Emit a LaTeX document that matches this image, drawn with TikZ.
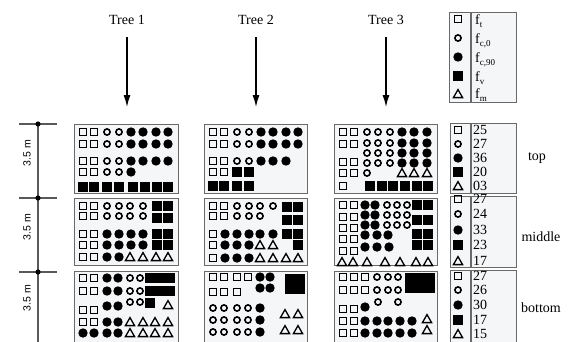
\documentclass[tikz,border=0pt]{standalone}
\usepackage{fontspec}
\setmainfont{Liberation Serif}
\setsansfont{Liberation Sans}
\usetikzlibrary{arrows.meta, positioning}

\definecolor{panelfill}{RGB}{245,246,248}
\definecolor{edgegray}{RGB}{105,105,105}

% one row of marks: pic, y, list of x
\newcommand{\putrow}[3]{\foreach \xx in {#3} \pic at (\xx,#2) {#1};}
% one line of a count box: pic, y, value, node name
\newcommand{\countrow}[4]{\pic at (458,#2) {#1}; \node[count] (#4) at (473,#2) {#3};}

\begin{document}
\begin{tikzpicture}[x=1pt, y=-1pt,
    panel/.style={rectangle, draw=edgegray, line width=1.3pt, fill=panelfill, anchor=north west, inner sep=0pt},
    label/.style={font=\fontsize{14}{14}\selectfont},
    count/.style={anchor=west, inner sep=0pt, font=\fontsize{14}{14}\selectfont},
    key/.style={anchor=base west, inner sep=0pt, font=\fontsize{14}{14}\selectfont},
    span/.style={rotate=90, font=\sffamily\fontsize{10.5}{10.5}\selectfont},
    arrow/.style={-{Latex[length=12pt, width=7pt]}, line width=1.3pt, shorten <=9pt},
    dim/.style={draw=black!65, line width=1.1pt},
    sq/.pic={\draw[line width=1.1pt] (-3.8pt,-3.8pt) rectangle (3.8pt,3.8pt);},
    ring/.pic={\draw[line width=1.6pt] (0,0) circle (3.1pt);},
    dot/.pic={\fill (0,0) circle (4.7pt);},
    box/.pic={\fill (-4.6pt,-4.6pt) rectangle (4.6pt,4.6pt);},
    tri/.pic={\draw[line width=1.3pt] (-4.6pt,-3.6pt) -- (4.6pt,-3.6pt) -- (0pt,4.4pt) -- cycle;}
]
\useasboundingbox (0,0) rectangle (568,341);
\clip (0,0) rectangle (568,341);

% trees and arrows
\node[label] (tree1) at (127,20) {Tree 1};
\node[label] (tree2) at (256,20) {Tree 2};
\node[label] (tree3) at (386,20) {Tree 3};
\coordinate (tip1) at (127,107);
\coordinate (tip2) at (256,107);
\coordinate (tip3) at (386,107);
\draw[arrow] (tree1) -- (tip1);
\draw[arrow] (tree2) -- (tip2);
\draw[arrow] (tree3) -- (tip3);

% height scale
\coordinate (s1) at (38,124);
\coordinate (s2) at (38,198);
\coordinate (s3) at (38,272);
\coordinate (send) at (38,345);
\draw[dim] (s1) -- (send);
\foreach \s in {s1,s2,s3} {
  \draw[dim] ([xshift=-19pt]\s) -- ([xshift=19pt]\s);
  \fill (\s) circle (2.6pt);
}
\node[span] (h1) at (27,153) {3.5 m};
\node[span] (h2) at (27,227) {3.5 m};
\node[span] (h3) at (27,298) {3.5 m};

% panels
\node[panel, minimum width=104pt, minimum height=69pt] (t1top) at (74,124) {};
\node[panel, minimum width=104pt, minimum height=67pt] (t1mid) at (74,198) {};
\node[panel, minimum width=104pt, minimum height=80pt] (t1bot) at (74,271) {};
\node[panel, minimum width=103pt, minimum height=69pt] (t2top) at (204,124) {};
\node[panel, minimum width=103pt, minimum height=67pt] (t2mid) at (204,198) {};
\node[panel, minimum width=103pt, minimum height=80pt] (t2bot) at (204,271) {};
\node[panel, minimum width=103pt, minimum height=69pt] (t3top) at (334,124) {};
\node[panel, minimum width=103pt, minimum height=67pt] (t3mid) at (334,198) {};
\node[panel, minimum width=103pt, minimum height=80pt] (t3bot) at (334,271) {};

% tree 1
\begin{scope}[shift={(t1top.north west)}]
  \foreach \yy in {8,20,37} {\putrow{sq}{\yy}{9,20} \putrow{ring}{\yy}{33,45} \putrow{dot}{\yy}{57,69,82,94}}
  \putrow{sq}{48}{9,20} \putrow{ring}{48}{33,45} \putrow{dot}{48}{57}
  \putrow{box}{63}{9,20,33,45,59,71,83,94}
\end{scope}
\begin{scope}[shift={(t1mid.north west)}]
  \foreach \yy in {8,18} {\putrow{sq}{\yy}{9,20} \putrow{ring}{\yy}{33,45,56,69}}
  \foreach \yy in {36,47} {\putrow{sq}{\yy}{9,20} \putrow{dot}{\yy}{33,45,57,69}}
  \foreach \yy in {8,20,36,47} {\putrow{box}{\yy}{83,94}}
  \putrow{sq}{59}{9,20} \putrow{dot}{59}{33,45} \putrow{tri}{59}{56,69,82,94}
\end{scope}
\begin{scope}[shift={(t1bot.north west)}]
  \foreach \yy in {7,20} {\putrow{sq}{\yy}{9,20} \putrow{dot}{\yy}{33,44} \putrow{ring}{\yy}{56,66} \putrow{box}{\yy}{76,86,96}}
  \putrow{ring}{31}{56,66} \putrow{box}{32}{76} \putrow{tri}{34}{94}
  \putrow{sq}{39}{9,20} \putrow{dot}{35}{33,44}
  \putrow{sq}{51}{9,20} \putrow{dot}{51}{33,44} \putrow{tri}{51}{56,69,81,94}
  \putrow{dot}{62}{9,20,33,44} \putrow{tri}{62}{56,69,81,94}
\end{scope}

% tree 2
\begin{scope}[shift={(t2top.north west)}]
  \foreach \yy in {8,20} {\putrow{sq}{\yy}{9,20} \putrow{ring}{\yy}{33,45} \putrow{dot}{\yy}{57,69,82,94}}
  \putrow{sq}{37}{9,20} \putrow{ring}{37}{33,45} \putrow{dot}{37}{57,69,82}
  \putrow{sq}{48}{9,20} \putrow{box}{48}{33,45}
  \putrow{box}{62}{9,20,33,45}
\end{scope}
\begin{scope}[shift={(t2mid.north west)}]
  \putrow{sq}{8}{9,20} \putrow{ring}{8}{33,45,56,69}
  \putrow{sq}{18}{9,20} \putrow{ring}{18}{33,45,56}
  \foreach \yy in {9,22,36} {\putrow{box}{\yy}{83,94}}
  \putrow{box}{47}{94}
  \putrow{sq}{36}{9} \putrow{dot}{36}{21,33,45,56,69}
  \putrow{sq}{47}{9} \putrow{dot}{47}{21,33,45} \putrow{tri}{47}{56,69}
  \putrow{sq}{60}{9} \putrow{dot}{60}{21,33,45} \putrow{tri}{60}{56,69,82,94}
\end{scope}
\begin{scope}[shift={(t2bot.north west)}]
  \putrow{sq}{6}{9,20,33,44} \putrow{sq}{21}{9,20,33}
  \putrow{dot}{6}{56,66} \putrow{dot}{17}{56,66}
  \putrow{box}{8}{86,96} \putrow{box}{18}{86,96}
  \foreach \yy in {37,49,61} {\putrow{ring}{\yy}{9,20,33,44} \putrow{dot}{\yy}{56}}
  \putrow{tri}{43}{81,94} \putrow{tri}{59}{81,94}
\end{scope}

% tree 3
\begin{scope}[shift={(t3top.north west)}]
  \foreach \yy in {8,20,38,49} {\putrow{sq}{\yy}{9,20}}
  \putrow{sq}{62}{9}
  \foreach \yy in {8,19,29,39} {\putrow{ring}{\yy}{33,44,56} \putrow{dot}{\yy}{68,80,93}}
  \putrow{ring}{49}{33} \putrow{tri}{49}{68,80,93}
  \putrow{box}{62}{36,48,59,71,83,94}
\end{scope}
\begin{scope}[shift={(t3mid.north west)}]
  \foreach \yy in {7,19,30,41,53} {\putrow{sq}{\yy}{9,20}}
  \foreach \yy in {7,17,27} {\putrow{dot}{\yy}{31,41} \putrow{ring}{\yy}{53,63,73}}
  \putrow{dot}{37}{31,43,54} \putrow{dot}{49}{31,43,55}
  \foreach \yy in {7,22,36,47} {\putrow{box}{\yy}{83,94}}
  \putrow{tri}{64}{8,19,33,51,66,82,94}
\end{scope}
\begin{scope}[shift={(t3bot.north west)}]
  \foreach \yy in {6,19} {\putrow{sq}{\yy}{9,20,31} \putrow{ring}{\yy}{43,54,64}}
  \putrow{box}{7}{76,86,96} \putrow{box}{17}{76,86,96}
  \putrow{ring}{31}{44,64}
  \putrow{sq}{38}{9,20} \putrow{dot}{36}{31}
  \foreach \yy in {50,62} {\putrow{sq}{\yy}{9,20} \putrow{dot}{\yy}{31,43,54,66,78}}
  \putrow{tri}{48}{93} \putrow{tri}{59}{93}
\end{scope}

% legend
\node[panel, minimum width=67pt, minimum height=90pt] (legend) at (449,12) {};
\draw[draw=edgegray, line width=1.3pt] ([xshift=22pt]legend.north west) -- ([xshift=22pt]legend.south west);
\pic at (458,19) {sq};
\pic at (458,38) {ring};
\pic at (458,57) {dot};
\pic at (458,76) {box};
\pic at (458,94) {tri};
\node[key] (ft) at (475,24) {f\raisebox{-3pt}{\fontsize{9}{9}\selectfont t}};
\node[key] (fc0) at (475,43) {f\raisebox{-3pt}{\fontsize{9}{9}\selectfont c,0}};
\node[key] (fc90) at (475,62) {f\raisebox{-3pt}{\fontsize{9}{9}\selectfont c,90}};
\node[key] (fv) at (475,81) {f\raisebox{-3pt}{\fontsize{9}{9}\selectfont v}};
\node[key] (fm) at (475,98) {f\raisebox{-3pt}{\fontsize{9}{9}\selectfont m}};

% counts per level
\node[panel, minimum width=66pt, minimum height=70pt] (ktop) at (450,123) {};
\node[panel, minimum width=66pt, minimum height=71pt] (kmid) at (450,196) {};
\node[panel, minimum width=66pt, minimum height=80pt] (kbot) at (450,270) {};
\foreach \k in {ktop,kmid,kbot}
  \draw[draw=edgegray, line width=1.3pt] ([xshift=21pt]\k.north west) -- ([xshift=21pt]\k.south west);

\countrow{sq}{130}{25}{ntop1}
\countrow{ring}{144}{27}{ntop2}
\countrow{dot}{158}{36}{ntop3}
\countrow{box}{172}{20}{ntop4}
\countrow{tri}{186}{03}{ntop5}

\countrow{sq}{199}{27}{nmid1}
\countrow{ring}{214}{24}{nmid2}
\countrow{dot}{230}{33}{nmid3}
\countrow{box}{245}{23}{nmid4}
\countrow{tri}{261}{17}{nmid5}

\countrow{sq}{276}{27}{nbot1}
\countrow{ring}{290}{26}{nbot2}
\countrow{dot}{305}{30}{nbot3}
\countrow{box}{320}{17}{nbot4}
\countrow{tri}{334}{15}{nbot5}

\node[label] (lvltop) at (537,158) {top};
\node[label] (lvlmid) at (541,237) {middle};
\node[label] (lvlbot) at (541,308) {bottom};

\end{tikzpicture}
\end{document}
